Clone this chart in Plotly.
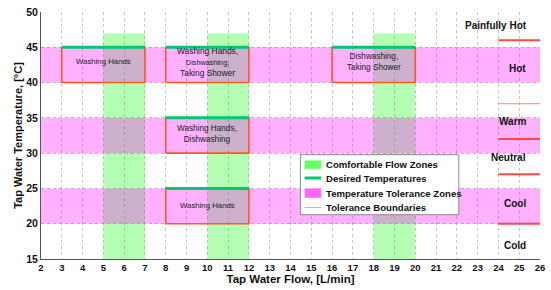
import plotly.graph_objects as go

# ---- data ----
flow_zone_start = [5, 10, 18]
flow_zone_end = [7, 12, 20]
flow_zone_bottom = 15
flow_zone_top = 47

band_low = [40, 30, 20]
band_high = [45, 35, 25]

act_x0 = [3, 8, 16, 8, 8]
act_x1 = [7, 12, 20, 12, 12]
act_ylow = [40, 40, 40, 30, 20]
act_yhigh = [45, 45, 45, 35, 25]
act_labels = ["Washing Hands",
              "Washing Hands,<br><span style='font-size:7.3px'>Dishwashing,</span><br>Taking Shower",
              "Dishwashing,<br>Taking Shower",
              "Washing Hands,<br>Dishwashing",
              "Washing Hands"]
act_label_size = [7.8, 8.4, 8.2, 8.2, 7.8]
act_label_y = [43.05, 42.9, 42.9, 32.7, 22.6]

cat_names = ["Painfully Hot", "Hot", "Warm", "Neutral", "Cool", "Cold"]
cat_x = [23.9, 24.9, 24.7, 24.5, 24.8, 24.8]
cat_y = [48.1, 42.0, 34.5, 29.4, 22.85, 16.9]
thresh_y = [46, 37, 32, 27, 20]
thresh_x0 = 24
thresh_x1 = 26

legend_names = ["Comfortable Flow Zones", "Desired Temperatures",
                "Temperature Tolerance Zones", "Tolerance Boundaries"]

x_ticks = list(range(2, 27))
y_ticks = [15, 20, 25, 30, 35, 40, 45, 50]
x_min, x_max = 2, 26
y_min, y_max = 15, 50

FONT = "Liberation Sans, Arial, sans-serif"
GREEN_FILL = "rgba(0,255,0,0.29)"
PINK_FILL = "rgba(255,0,255,0.31)"
ORANGE = "#FF5A1E"
TEAL = "#00C86E"
RED = "#FF4848"

def polys(x0s, x1s, y0s, y1s):
    xs, ys = [], []
    for a, b, c, d in zip(x0s, x1s, y0s, y1s):
        xs += [a, b, b, a, a, None]
        ys += [c, c, d, d, c, None]
    return xs, ys

fig = go.Figure()

# comfortable flow zones
gx, gy = polys(flow_zone_start, flow_zone_end,
               [flow_zone_bottom] * len(flow_zone_start), [flow_zone_top] * len(flow_zone_start))
fig.add_trace(go.Scatter(x=gx, y=gy, fill="toself", fillcolor=GREEN_FILL, mode="none",
                         name=legend_names[0], showlegend=False, hoverinfo="skip"))

# tolerance bands
px, py = polys([x_min] * 3, [x_max] * 3, band_low, band_high)
fig.add_trace(go.Scatter(x=px, y=py, fill="toself", fillcolor=PINK_FILL, mode="none",
                         name=legend_names[2], showlegend=False, hoverinfo="skip"))

# tolerance boundaries (boxes)
bx, by = polys(act_x0, act_x1, act_ylow, act_yhigh)
fig.add_trace(go.Scatter(x=bx, y=by, mode="lines", line=dict(color=ORANGE, width=1.6),
                         name=legend_names[3], showlegend=False, hoverinfo="skip"))

# desired temperatures
dx, dy = [], []
for a, b, h in zip(act_x0, act_x1, act_yhigh):
    dx += [a, b, None]
    dy += [h, h, None]
fig.add_trace(go.Scatter(x=dx, y=dy, mode="lines", line=dict(color=TEAL, width=3),
                         name=legend_names[1], showlegend=False, hoverinfo="skip"))

# threshold lines on the right
for i, t in enumerate(thresh_y):
    fig.add_trace(go.Scatter(x=[thresh_x0, thresh_x1], y=[t, t], mode="lines",
                             line=dict(color=RED if i != 1 else "#FF8080", width=2 if i != 1 else 1),
                             showlegend=False, hoverinfo="skip"))

# activity labels
for lx0, lx1, ly, lab, fs in zip(act_x0, act_x1, act_label_y, act_labels, act_label_size):
    fig.add_annotation(x=(lx0 + lx1) / 2, y=ly, text=lab, showarrow=False,
                       font=dict(family=FONT, size=fs, color="#1a1a1a"))

# category labels
for cx, cy, cn in zip(cat_x, cat_y, cat_names):
    fig.add_annotation(x=cx, y=cy, text="<b>" + cn + "</b>", showarrow=False,
                       font=dict(family=FONT, size=10, color="#111111"))

# ---- custom compact legend (axis-domain coordinates) ----
LX0, LX1, LY0, LY1 = 0.5198, 0.8373, 0.1793, 0.4223
fig.add_shape(type="rect", xref="x domain", yref="y domain", x0=LX0, x1=LX1, y0=LY0, y1=LY1,
              fillcolor="white", line=dict(color="#888888", width=1), layer="above")
item_y = [0.3820, 0.3279, 0.2669, 0.2084]
sx0, sx1 = 0.5284, 0.5615
fig.add_shape(type="rect", xref="x domain", yref="y domain", x0=sx0, x1=sx1,
              y0=item_y[0] - 0.017, y1=item_y[0] + 0.017, fillcolor="#66FF66",
              line=dict(width=0), layer="above")
fig.add_shape(type="line", xref="x domain", yref="y domain", x0=sx0, x1=sx1,
              y0=item_y[1], y1=item_y[1], line=dict(color=TEAL, width=3), layer="above")
fig.add_shape(type="rect", xref="x domain", yref="y domain", x0=sx0, x1=sx1,
              y0=item_y[2] - 0.019, y1=item_y[2] + 0.019, fillcolor="#FF66FF",
              line=dict(width=0), layer="above")
fig.add_shape(type="line", xref="x domain", yref="y domain", x0=sx0, x1=sx1,
              y0=item_y[3], y1=item_y[3], line=dict(color="#FFA070", width=1), layer="above")
for iy, nm in zip(item_y, legend_names):
    fig.add_annotation(xref="x domain", yref="y domain", x=0.568, y=iy, xanchor="left",
                       yanchor="middle", text="<b>" + nm + "</b>", showarrow=False,
                       font=dict(family=FONT, size=9.6, color="#111111"))

fig.update_layout(
    width=551, height=290,
    margin=dict(l=41, r=6, t=8, b=31),
    paper_bgcolor="white", plot_bgcolor="white",
    font=dict(family=FONT, size=10, color="#111111"),
    showlegend=False,
)
fig.update_xaxes(range=[x_min, x_max], tickvals=x_ticks, ticktext=["<b>%d</b>" % v for v in x_ticks],
                 showgrid=True, gridcolor="#C4C4C4", griddash="dot", gridwidth=1,
                 showline=True, linecolor="#555555", linewidth=1, mirror=False,
                 zeroline=False, ticks="", tickfont=dict(size=9.5),
                 title=dict(text="<b>Tap Water Flow, [L/min]</b>", font=dict(size=11.5), standoff=0))
fig.update_yaxes(range=[y_min, y_max], tickvals=y_ticks, ticktext=["<b>%d</b>" % v for v in y_ticks],
                 showgrid=True, gridcolor="#C4C4C4", griddash="dot", gridwidth=1,
                 showline=True, linecolor="#555555", linewidth=1, mirror=False,
                 zeroline=False, ticks="", tickfont=dict(size=10.5),
                 title=dict(text="<b>Tap Water Temperature, [°C]</b>", font=dict(size=11), standoff=1))

fig.write_html("out.html", config={"displayModeBar": False},
               post_script="document.body.style.margin='0';")
